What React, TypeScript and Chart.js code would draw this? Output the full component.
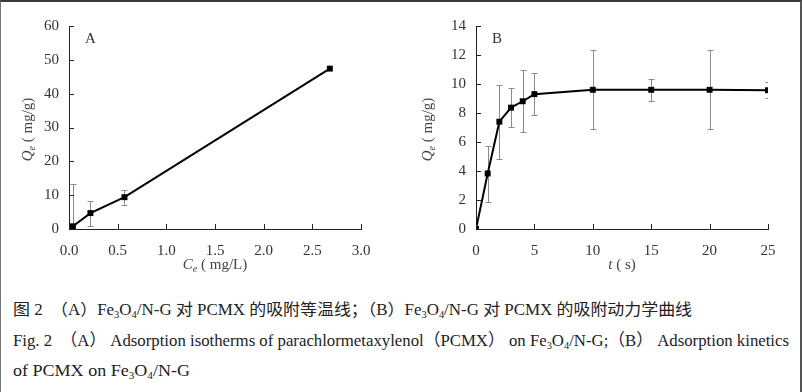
import React, { useEffect, useLayoutEffect, useRef } from 'react';
import { Chart, registerables } from 'chart.js';

Chart.register(...registerables);

// ---- Panel A: adsorption isotherm ----
const isoCe = [0.04, 0.22, 0.57, 2.68];
const isoQe = [0.8, 4.7, 9.4, 47.4];
const isoErrLow: (number | null)[] = [-12, 1.0, 7.1, null];
const isoErrHigh: (number | null)[] = [13.3, 8.3, 11.5, null];

// ---- Panel B: adsorption kinetics ----
const kinT = [0, 1, 2, 3, 4, 5, 10, 15, 20, 25];
const kinQe = [0, 3.83, 7.4, 8.37, 8.81, 9.3, 9.6, 9.6, 9.6, 9.57];
const kinErrLow: (number | null)[] = [null, 1.88, 4.83, 7.05, 6.66, 7.87, 6.87, 8.84, 6.87, 9.0];
const kinErrHigh: (number | null)[] = [null, 5.75, 9.93, 9.7, 10.95, 10.77, 12.37, 10.35, 12.33, 10.17];

const SERIF = "'Liberation Serif', 'Times New Roman', Times, serif";

type Part = { text: string; font: string; dy?: number };

function drawParts(ctx: CanvasRenderingContext2D, parts: Part[], cx: number, cy: number) {
  let total = 0;
  parts.forEach(p => { ctx.font = p.font; total += ctx.measureText(p.text).width; });
  let x = cx - total / 2;
  ctx.textBaseline = 'middle';
  ctx.textAlign = 'left';
  parts.forEach(p => {
    ctx.font = p.font;
    ctx.fillText(p.text, x, cy + (p.dy || 0));
    x += ctx.measureText(p.text).width;
  });
}

const errorBarPlugin = {
  id: 'errbars',
  beforeDatasetsDraw(chart: any, _args: any, opts: any) {
    const { ctx, chartArea: ca, scales } = chart;
    const xs: number[] = opts.xs || [];
    const lo: (number | null)[] = opts.low || [];
    const hi: (number | null)[] = opts.high || [];
    ctx.save();
    ctx.beginPath();
    ctx.rect(ca.left, ca.top - 2, ca.right - ca.left, ca.bottom - ca.top + 2);
    ctx.clip();
    ctx.strokeStyle = '#8a8a8a';
    ctx.lineWidth = 1;
    ctx.beginPath();
    xs.forEach((xv, i) => {
      const l = lo[i], h = hi[i];
      if (l == null || h == null) return;
      const px = Math.round(scales.x.getPixelForValue(xv)) + 0.5;
      const y1 = Math.round(scales.y.getPixelForValue(l)) + 0.5;
      const y2 = Math.round(scales.y.getPixelForValue(h)) + 0.5;
      ctx.moveTo(px, y1); ctx.lineTo(px, y2);
      ctx.moveTo(px - 3, y1); ctx.lineTo(px + 3, y1);
      ctx.moveTo(px - 3, y2); ctx.lineTo(px + 3, y2);
    });
    ctx.stroke();
    ctx.restore();
  },
};

const decorPlugin = {
  id: 'decor',
  afterDraw(chart: any, _args: any, opts: any) {
    const { ctx, chartArea: ca, scales } = chart;
    const x = scales.x, y = scales.y;
    ctx.save();
    ctx.strokeStyle = '#222';
    ctx.lineWidth = 1;
    ctx.beginPath();
    x.ticks.forEach((t: any) => {
      const px = Math.round(x.getPixelForValue(t.value)) + 0.5;
      ctx.moveTo(px, ca.bottom); ctx.lineTo(px, ca.bottom - 5);
    });
    y.ticks.forEach((t: any) => {
      const py = Math.round(y.getPixelForValue(t.value)) + 0.5;
      ctx.moveTo(ca.left, py); ctx.lineTo(ca.left + 5, py);
    });
    ctx.stroke();

    ctx.fillStyle = '#333';
    ctx.font = `15px ${SERIF}`;
    ctx.textBaseline = 'middle';
    ctx.textAlign = 'left';
    ctx.fillText(opts.letter, ca.left + 16, ca.top + 13);

    ctx.fillStyle = '#444';
    drawParts(ctx, opts.xTitle, (ca.left + ca.right) / 2, ca.bottom + 36);

    ctx.save();
    ctx.translate(opts.yTitleX, (ca.top + ca.bottom) / 2 + 2);
    ctx.rotate(-Math.PI / 2);
    drawParts(ctx, opts.yTitle, 0, 0);
    ctx.restore();
    ctx.restore();
  },
};

const yTitleParts: Part[] = [
  { text: 'Q', font: `italic 15px ${SERIF}` },
  { text: 'e', font: `italic 10px ${SERIF}`, dy: 4 },
  { text: ' ( mg/g)', font: `15px ${SERIF}` },
];

type PanelProps = {
  xs: number[]; ys: number[]; lo: (number | null)[]; hi: (number | null)[];
  xMax: number; xStep: number; xDigits: number; yMax: number; yStep: number;
  letter: string; xTitle: Part[]; width: number; height: number;
  yWidth: number; padRight: number;
};

function Panel(p: PanelProps) {
  const ref = useRef<HTMLCanvasElement>(null);
  useEffect(() => {
    if (!ref.current) return;
    const data = p.xs.map((xv, i) => ({ x: xv, y: p.ys[i] }));
    const chart = new Chart(ref.current, {
      type: 'line',
      data: {
        datasets: [{
          data,
          borderColor: '#000',
          backgroundColor: '#000',
          borderWidth: 2,
          pointStyle: 'rect',
          pointRadius: 4.2,
          pointBackgroundColor: '#000',
          pointBorderWidth: 0,
          tension: 0,
        }],
      },
      options: {
        responsive: false,
        animation: false,
        layout: { padding: { top: 26, right: p.padRight, left: 0, bottom: 0 } },
        plugins: {
          legend: { display: false },
          tooltip: { enabled: false },
          errbars: { xs: p.xs, low: p.lo, high: p.hi },
          decor: { letter: p.letter, xTitle: p.xTitle, yTitle: yTitleParts, yTitleX: 28 },
        } as any,
        scales: {
          x: {
            type: 'linear', min: 0, max: p.xMax,
            grid: { display: false },
            border: { display: true, color: '#222', width: 1 },
            ticks: {
              stepSize: p.xStep, padding: 5, color: '#333',
              font: { family: SERIF, size: 15 },
              callback: (v: any) => Number(v).toFixed(p.xDigits),
              maxRotation: 0,
            },
            afterFit: (s: any) => { s.height = p.height - 229; },
          },
          y: {
            type: 'linear', min: 0, max: p.yMax,
            grid: { display: false },
            border: { display: true, color: '#222', width: 1 },
            ticks: {
              stepSize: p.yStep, padding: 2, color: '#333',
              font: { family: SERIF, size: 15 },
            },
            afterFit: (s: any) => { s.width = p.yWidth; },
          },
        },
      },
      plugins: [errorBarPlugin, decorPlugin],
    } as any);
    return () => chart.destroy();
  }, []);
  return <canvas ref={ref} width={p.width} height={p.height} style={{ display: 'block' }} />;
}

function FitLine(props: { top: number; left: number; width: number; size: number; children: React.ReactNode }) {
  const ref = useRef<HTMLSpanElement>(null);
  useLayoutEffect(() => {
    const el = ref.current;
    if (!el) return;
    el.style.transform = 'none';
    const w = el.getBoundingClientRect().width;
    if (w > 0) el.style.transform = `scaleX(${props.width / w})`;
  }, []);
  return (
    <span
      ref={ref}
      style={{
        position: 'absolute', left: props.left, top: props.top, whiteSpace: 'nowrap',
        transformOrigin: 'left center', fontSize: props.size, lineHeight: '20px', color: '#222',
        fontFamily: "'Liberation Serif', 'Noto Sans CJK SC', serif",
      }}
    >
      {props.children}
    </span>
  );
}

const sub = (t: string) => <sub style={{ fontSize: '0.62em', verticalAlign: '-3px', lineHeight: 0 }}>{t}</sub>;
const FeO = () => <>Fe{sub('3')}O{sub('4')}/N-G</>;

export default function App() {
  useLayoutEffect(() => {
    document.body.style.margin = '0';
    document.body.style.background = '#fff';
  }, []);
  return (
    <div style={{ position: 'relative', width: 802, height: 392, background: '#fff', overflow: 'hidden' }}>
      <div style={{ position: 'absolute', left: 0, top: 0 }}>
        <Panel xs={isoCe} ys={isoQe} lo={isoErrLow} hi={isoErrHigh}
          xMax={3} xStep={0.5} xDigits={1} yMax={60} yStep={10} letter="A"
          xTitle={[
            { text: 'C', font: `italic 15px ${SERIF}` },
            { text: 'e', font: `italic 10px ${SERIF}`, dy: 4 },
            { text: ' ( mg/L)', font: `15px ${SERIF}` },
          ]}
          width={400} height={290} yWidth={69} padRight={39} />
      </div>
      <div style={{ position: 'absolute', left: 400, top: 0 }}>
        <Panel xs={kinT} ys={kinQe} lo={kinErrLow} hi={kinErrHigh}
          xMax={25} xStep={5} xDigits={0} yMax={14} yStep={2} letter="B"
          xTitle={[
            { text: 't', font: `italic 15px ${SERIF}` },
            { text: ' ( s)', font: `15px ${SERIF}` },
          ]}
          width={402} height={290} yWidth={76} padRight={34} />
      </div>
      <FitLine left={13} top={300} width={679} size={16}>
        图 2　（A）<FeO /> 对 PCMX 的吸附等温线；（B）<FeO /> 对 PCMX 的吸附动力学曲线
      </FitLine>
      <FitLine left={13} top={331} width={776} size={17}>
        Fig. 2　（A） Adsorption isotherms of parachlormetaxylenol（PCMX） on <FeO />;（B） Adsorption kinetics
      </FitLine>
      <FitLine left={13} top={361} width={177} size={17}>
        of PCMX on <FeO />
      </FitLine>
      <div style={{
        position: 'absolute', left: 0, top: 0, width: 802, height: 392, boxSizing: 'border-box',
        borderTop: '2px solid #3a3a3a', borderLeft: '1px solid #777', borderRight: '2px solid #555',
        pointerEvents: 'none',
      }} />
    </div>
  );
}
